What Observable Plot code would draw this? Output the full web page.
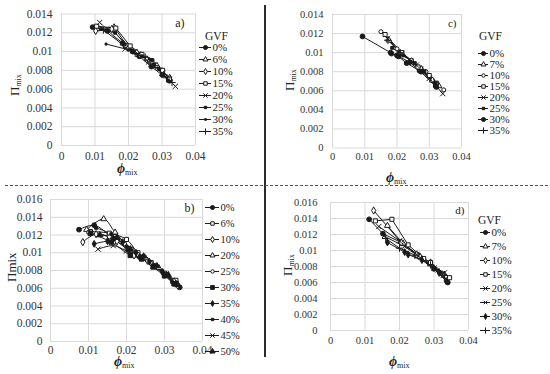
<!DOCTYPE html>
<html><head><meta charset="utf-8">
<script src="https://cdn.jsdelivr.net/npm/d3@7"></script>
<script src="https://cdn.jsdelivr.net/npm/@observablehq/plot@0.6"></script>
<style>
body{margin:0;background:#fff;}
#fig{position:relative;width:550px;height:374px;font-family:"Liberation Serif","Times New Roman",serif;overflow:hidden;background:#fff;color:#222;}
#fig svg, #fig svg text{font-family:"Liberation Serif","Times New Roman",serif !important;}
.abs{position:absolute;white-space:nowrap;line-height:1;}
.xt{font-size:12px;}
.xt b{font-style:italic;font-size:14px;}
.xt sub{font-size:8px;vertical-align:-2px;}
.yt{font-size:13px;transform:rotate(-90deg);transform-origin:0 0;}
.yt sub{font-size:8px;vertical-align:-2px;}
</style></head><body><div id="fig"></div>
<script>
// ---------- data ----------
const xTicks = [0, 0.01, 0.02, 0.03, 0.04];
const yTicks14 = [0, 0.002, 0.004, 0.006, 0.008, 0.01, 0.012, 0.014];
const yTicks16 = [0, 0.002, 0.004, 0.006, 0.008, 0.01, 0.012, 0.014, 0.016];

// panel a)
const gvfA = ["0%", "6%", "10%", "15%", "20%", "25%", "30%", "35%"];
const phiA = [
  [0.0093, 0.0137, 0.0183, 0.0212, 0.0232, 0.0268, 0.0301, 0.0322],
  [0.0106, 0.0157, 0.0196, 0.0225, 0.0255, 0.0285, 0.0322],
  [0.0102, 0.0150, 0.0200, 0.0235, 0.0262, 0.0300, 0.0323],
  [0.0105, 0.0162, 0.0205, 0.0240, 0.0270, 0.0302, 0.0322],
  [0.0114, 0.0135, 0.0190, 0.0230, 0.0260, 0.0300, 0.0340],
  [0.0118, 0.0160, 0.0210, 0.0240, 0.0270, 0.0290, 0.0318],
  [0.0133, 0.0200, 0.0228, 0.0262, 0.0290, 0.0325],
  [0.0125, 0.0185, 0.0220, 0.0250, 0.0280, 0.0315, 0.0330]
];
const piA = [
  [0.0126, 0.0122, 0.0109, 0.0100, 0.0095, 0.0084, 0.0075, 0.0069],
  [0.0124, 0.0126, 0.0106, 0.0099, 0.0092, 0.0085, 0.0071],
  [0.0122, 0.0124, 0.0104, 0.0096, 0.0090, 0.0079, 0.0072],
  [0.0127, 0.0125, 0.0106, 0.0097, 0.0090, 0.0080, 0.0071],
  [0.0131, 0.0124, 0.0103, 0.0097, 0.0089, 0.0077, 0.0063],
  [0.0124, 0.0120, 0.0101, 0.0095, 0.0091, 0.0082, 0.0069],
  [0.0108, 0.0102, 0.0097, 0.0092, 0.0081, 0.0068],
  [0.0123, 0.0107, 0.0098, 0.0094, 0.0085, 0.0072, 0.0067]
];

// panel b)
const gvfB = ["0%", "6%", "10%", "20%", "25%", "30%", "35%", "40%", "45%", "50%"];
const phiB = [
  [0.0075, 0.0115, 0.0165, 0.0205, 0.0235, 0.0275, 0.0305, 0.0340],
  [0.0105, 0.0155, 0.0200, 0.0230, 0.0265, 0.0300, 0.0330],
  [0.0085, 0.0120, 0.0175, 0.0220, 0.0255, 0.0295, 0.0335],
  [0.0095, 0.0140, 0.0170, 0.0215, 0.0250, 0.0285, 0.0325],
  [0.0100, 0.0155, 0.0195, 0.0230, 0.0265, 0.0305, 0.0330],
  [0.0105, 0.0160, 0.0210, 0.0240, 0.0270, 0.0300, 0.0325],
  [0.0115, 0.0150, 0.0190, 0.0225, 0.0260, 0.0295, 0.0330],
  [0.0120, 0.0160, 0.0200, 0.0235, 0.0270, 0.0300, 0.0320],
  [0.0125, 0.0165, 0.0200, 0.0240, 0.0270, 0.0305, 0.0330],
  [0.0130, 0.0175, 0.0210, 0.0245, 0.0280, 0.0310, 0.0335]
];
const piB = [
  [0.0126, 0.0131, 0.0116, 0.0103, 0.0095, 0.0085, 0.0075, 0.0061],
  [0.0124, 0.0122, 0.0115, 0.0100, 0.0089, 0.0077, 0.0069],
  [0.0112, 0.0121, 0.0113, 0.0097, 0.0091, 0.0078, 0.0063],
  [0.0126, 0.0138, 0.0123, 0.0103, 0.0094, 0.0083, 0.0068],
  [0.0123, 0.0118, 0.0110, 0.0098, 0.0088, 0.0075, 0.0066],
  [0.0122, 0.0112, 0.0097, 0.0093, 0.0084, 0.0074, 0.0065],
  [0.0110, 0.0113, 0.0112, 0.0100, 0.0090, 0.0078, 0.0065],
  [0.0128, 0.0121, 0.0107, 0.0096, 0.0086, 0.0076, 0.0067],
  [0.0104, 0.0108, 0.0102, 0.0094, 0.0085, 0.0074, 0.0065],
  [0.0120, 0.0117, 0.0104, 0.0096, 0.0085, 0.0075, 0.0064]
];

// panel c)
const gvfC = ["0%", "7%", "10%", "15%", "20%", "25%", "30%", "35%"];
const phiC = [
  [0.0093, 0.0180, 0.0200, 0.0230, 0.0270, 0.0320],
  [0.0175, 0.0210, 0.0245, 0.0275, 0.0310, 0.0330],
  [0.0150, 0.0200, 0.0245, 0.0290, 0.0345],
  [0.0163, 0.0215, 0.0265, 0.0300, 0.0322],
  [0.0170, 0.0215, 0.0260, 0.0300, 0.0342],
  [0.0185, 0.0220, 0.0255, 0.0285, 0.0320],
  [0.0183, 0.0205, 0.0240, 0.0275, 0.0322],
  [0.0172, 0.0210, 0.0250, 0.0280, 0.0315]
];
const piC = [
  [0.0117, 0.0100, 0.0097, 0.0089, 0.0081, 0.0065],
  [0.0113, 0.0099, 0.0091, 0.0083, 0.0071, 0.0065],
  [0.0122, 0.0104, 0.0092, 0.0080, 0.0061],
  [0.0119, 0.0100, 0.0085, 0.0076, 0.0068],
  [0.0115, 0.0099, 0.0087, 0.0073, 0.0057],
  [0.0105, 0.0097, 0.0089, 0.0080, 0.0068],
  [0.0099, 0.0096, 0.0090, 0.0080, 0.0064],
  [0.0113, 0.0100, 0.0090, 0.0082, 0.0069]
];

// panel d)
const gvfD = ["0%", "7%", "10%", "15%", "20%", "25%", "30%", "35%"];
const phiD = [
  [0.0112, 0.0152, 0.0205, 0.0255, 0.0300, 0.0340],
  [0.0165, 0.0210, 0.0260, 0.0290, 0.0330],
  [0.0125, 0.0205, 0.0250, 0.0290, 0.0335],
  [0.0130, 0.0178, 0.0225, 0.0270, 0.0290, 0.0345],
  [0.0140, 0.0200, 0.0250, 0.0300, 0.0330],
  [0.0155, 0.0215, 0.0260, 0.0310, 0.0325],
  [0.0165, 0.0215, 0.0225, 0.0265, 0.0315, 0.0335],
  [0.0160, 0.0200, 0.0245, 0.0290, 0.0330]
];
const piD = [
  [0.0139, 0.0121, 0.0110, 0.0094, 0.0077, 0.0060],
  [0.0131, 0.0109, 0.0092, 0.0083, 0.0070],
  [0.0150, 0.0110, 0.0095, 0.0085, 0.0066],
  [0.0137, 0.0139, 0.0107, 0.0090, 0.0085, 0.0066],
  [0.0130, 0.0112, 0.0095, 0.0078, 0.0072],
  [0.0118, 0.0105, 0.0091, 0.0075, 0.0068],
  [0.0110, 0.0098, 0.0095, 0.0088, 0.0072, 0.0062],
  [0.0115, 0.0103, 0.0094, 0.0082, 0.0069]
];

// ---------- marker styles ----------
const K = "#1a1a1a";
const mk = {
  dotF: {symbol: "circle", fill: K, stroke: K, r: 2.4},
  tri: {symbol: "triangle", fill: "#fff", stroke: K, r: 2.2},
  dia: {symbol: "diamond", fill: "#fff", stroke: K, r: 2.2},
  sq: {symbol: "square", fill: "#fff", stroke: K, r: 2.3},
  x: {symbol: "times", fill: "none", stroke: K, r: 2.5},
  sqF: {symbol: "square", fill: K, stroke: K, r: 1.6},
  dash: {symbol: "square", fill: K, stroke: K, r: 1.1},
  plus: {symbol: "plus", fill: "none", stroke: K, r: 2.5},
  circO: {symbol: "circle", fill: "#fff", stroke: K, r: 2.0},
  sqBig: {symbol: "square", fill: K, stroke: K, r: 2.5},
  diaF: {symbol: "diamond", fill: K, stroke: K, r: 2.1},
  triF: {symbol: "triangle", fill: K, stroke: K, r: 2.3},
  ast: {symbol: "times", fill: "none", stroke: K, r: 2.0}
};
const styA = [mk.dotF, mk.tri, mk.dia, mk.sq, mk.x, mk.sqF, mk.dash, mk.plus];
const styB = [mk.dotF, mk.sq, mk.dia, mk.tri, mk.circO, mk.sqBig, mk.diaF, mk.sqF, mk.x, mk.triF];
const styC = [mk.dotF, mk.tri, mk.circO, mk.sq, mk.x, mk.sqF, mk.dotF, mk.plus];
const styD = [mk.dotF, mk.tri, mk.dia, mk.sq, mk.x, mk.ast, mk.diaF, mk.plus];

const fig = document.getElementById("fig");
const FONT = '"Liberation Serif", "Times New Roman", serif';
function place(el, left, top) {
  el.style.position = "absolute"; el.style.left = left + "px"; el.style.top = top + "px";
  fig.appendChild(el);
}
function html(cls, h, left, top) {
  const d = document.createElement("div");
  d.className = "abs " + cls; d.innerHTML = h;
  d.style.left = left + "px"; d.style.top = top + "px";
  fig.appendChild(d);
}

function panel(p) {
  const W = p.W, H = p.H;
  const marks = [
    Plot.gridX(xTicks, {stroke: "#d9d9d9", strokeOpacity: 1}),
    Plot.gridY(p.yTicks, {stroke: "#d9d9d9", strokeOpacity: 1}),
    Plot.axisX(xTicks, {tickSize: 0, tickPadding: p.xPad, fontSize: p.fs, label: null, tickFormat: d => String(d), fill: "#333"}),
    Plot.axisY(p.yTicks, {tickSize: 0, tickPadding: p.yPad, fontSize: p.fs, label: null, tickFormat: d => String(d), fill: "#333"})
  ];
  p.labels.forEach((g, i) => {
    const rows = p.phi[i].map((v, j) => ({phi: v, pi: p.pi[i][j]}));
    marks.push(Plot.line(rows, {x: "phi", y: "pi", stroke: g === "20%" && p.grayX ? "#888" : K, strokeWidth: 1, curve: p.curve}));
  });
  p.labels.forEach((g, i) => {
    const rows = p.phi[i].map((v, j) => ({phi: v, pi: p.pi[i][j]}));
    const s = p.sty[i];
    marks.push(Plot.dot(rows, {x: "phi", y: "pi", symbol: s.symbol, fill: s.fill, stroke: s.stroke, r: s.r, strokeWidth: 1}));
  });
  marks.push(Plot.text([p.tag], {frameAnchor: "top-right", dx: p.tagDx, dy: p.tagDy, fontSize: p.fs + 0.5, fill: "#222"}));
  const svg = Plot.plot({
    width: W, height: H,
    marginLeft: p.x0 - p.left, marginRight: W - (p.x1 - p.left),
    marginTop: p.y0 - p.top, marginBottom: H - (p.y1 - p.top),
    x: {domain: [0, 0.04]}, y: {domain: [0, p.ymax]},
    style: {fontFamily: FONT, background: "transparent", overflow: "visible"},
    marks
  });
  place(svg, p.left, p.top);
}

function legend(l) {
  const n = l.labels.length, pad = 6, textW = 40;
  const marks = [Plot.ruleY(l.labels, {y: d => d, x1: 0, x2: 1, stroke: K, strokeWidth: 1})];
  l.labels.forEach((g, i) => {
    const s = l.sty[i];
    marks.push(Plot.dot([g], {x: 0.5, y: d => d, symbol: s.symbol, fill: s.fill, stroke: s.stroke, r: s.r * 0.85, strokeWidth: 1}));
  });
  marks.push(Plot.text(l.labels, {x: 1, y: d => d, text: d => d, textAnchor: "start", dx: 1, fontSize: l.fs, fill: "#222"}));
  const svg = Plot.plot({
    width: pad + l.len + textW, height: l.step * (n - 1) + 2 * pad,
    marginLeft: pad, marginRight: textW, marginTop: pad, marginBottom: pad,
    x: {domain: [0, 1], axis: null}, y: {type: "point", domain: l.labels, padding: 0, axis: null},
    style: {fontFamily: FONT, background: "transparent", overflow: "visible"},
    marks
  });
  place(svg, l.x - pad, l.y - pad);
}

// panels
panel({tag: "a)", left: 0, top: 0, W: 265, H: 185, x0: 61, x1: 195, y0: 13.5, y1: 145, ymax: 0.014, yTicks: yTicks14,
  labels: gvfA, phi: phiA, pi: piA, sty: styA, fs: 11.5, xPad: 6, yPad: 9, tagDx: -11, tagDy: 4, curve: "linear", grayX: true});
panel({tag: "c)", left: 275, top: 0, W: 275, H: 185, x0: 332, x1: 461, y0: 14, y1: 147.5, ymax: 0.014, yTicks: yTicks14,
  labels: gvfC, phi: phiC, pi: piC, sty: styC, fs: 10.5, xPad: 5, yPad: 9, tagDx: -5, tagDy: 5, curve: "linear"});
panel({tag: "b)", left: 0, top: 187, W: 265, H: 187, x0: 50, x1: 202, y0: 199, y1: 341, ymax: 0.016, yTicks: yTicks16,
  labels: gvfB, phi: phiB, pi: piB, sty: styB, fs: 11.5, xPad: 4, yPad: 8, tagDx: -8, tagDy: 4, curve: "catmull-rom"});
panel({tag: "d)", left: 275, top: 187, W: 275, H: 187, x0: 330, x1: 468, y0: 202, y1: 330, ymax: 0.016, yTicks: yTicks16,
  labels: gvfD, phi: phiD, pi: piD, sty: styD, fs: 10.5, xPad: 6, yPad: 13, tagDx: -4, tagDy: 4, curve: "linear"});

// legends
legend({labels: gvfA, sty: styA, x: 199, y: 46, len: 12, step: 12.2, fs: 11});
legend({labels: gvfC, sty: styC, x: 478, y: 49.5, len: 10, step: 11.9, fs: 11});
legend({labels: gvfB, sty: styB, x: 205, y: 207, len: 14, step: 16.1, fs: 10.5});
legend({labels: gvfD, sty: styD, x: 480, y: 232, len: 10, step: 14.1, fs: 11});
html("", '<span style="font-size:11.5px">GVF</span>', 205, 27);
html("", '<span style="font-size:11.5px">GVF</span>', 479, 27);
html("", '<span style="font-size:11.5px">GVF</span>', 478, 211);

// axis titles
html("xt", "<b>ϕ</b><sub>mix</sub>", 117, 162);
html("xt", "<b>ϕ</b><sub>mix</sub>", 386, 171);
html("xt", "<b>ϕ</b><sub>mix</sub>", 114, 355);
html("xt", "<b>ϕ</b><sub>mix</sub>", 389, 355);
html("yt", "Π<sub>mix</sub>", 8, 96);
html("yt", "Π<sub>mix</sub>", 283, 91);
html("yt", "Πmix", 5, 282);
html("yt", "Π<sub>mix</sub>", 281, 276);

// separators
const v = document.createElement("div");
v.style.cssText = "width:2px;height:352px;background:#2b2b2b;";
place(v, 264, 5);
const h = document.createElement("div");
h.style.cssText = "width:543px;height:0;border-top:1.5px dashed #555;";
place(h, 5, 185);
</script></body></html>
